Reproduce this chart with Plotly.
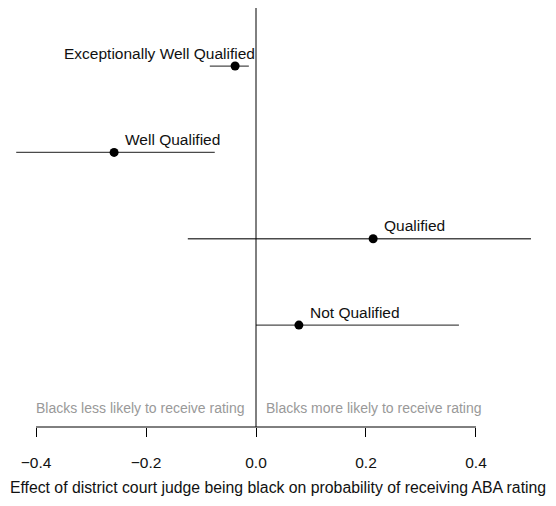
import plotly.graph_objects as go

# ABA rating categories, top to bottom
ratings = ["Exceptionally Well Qualified", "Well Qualified", "Qualified", "Not Qualified"]
row_pos = [4, 3, 2, 1]
estimates = [-0.038, -0.258, 0.213, 0.078]
ci_low = [-0.084, -0.436, -0.124, 0.0]
ci_high = [-0.013, -0.075, 0.500, 0.369]
tick_vals = [-0.4, -0.2, 0.0, 0.2, 0.4]
tick_text = ["\u22120.4", "\u22120.2", "0.0", "0.2", "0.4"]

FONT = "Liberation Sans, Arial, Helvetica, sans-serif"
TXT = 15.5

fig = go.Figure()
fig.add_trace(go.Scatter(
    x=estimates, y=row_pos, mode="markers",
    marker=dict(color="black", size=9),
    error_x=dict(type="data", symmetric=False,
                 array=[h - e for h, e in zip(ci_high, estimates)],
                 arrayminus=[e - l for e, l in zip(estimates, ci_low)],
                 color="#4a4a4a", thickness=1.3, width=0),
    hoverinfo="skip", showlegend=False,
))

# category labels next to each point
for name, x, y in zip(ratings, estimates, row_pos):
    if x == estimates[0]:
        fig.add_annotation(x=x, y=y, text=name, showarrow=False, xanchor="right",
                           xshift=22, yshift=13, font=dict(size=TXT, color="#111", family=FONT))
    else:
        fig.add_annotation(x=x, y=y, text=name, showarrow=False, xanchor="left",
                           xshift=9, yshift=13, font=dict(size=TXT, color="#111", family=FONT))

# zero reference line and bottom axis line
fig.add_shape(type="line", x0=0, x1=0, xref="x", y0=0, y1=1, yref="paper",
              line=dict(color="black", width=1))
fig.add_shape(type="line", x0=tick_vals[0], x1=tick_vals[-1], xref="x", y0=0, y1=0, yref="paper",
              line=dict(color="black", width=1))

fig.add_annotation(x=0, y=0, xref="x", yref="paper", text="Blacks less likely to receive rating",
                   showarrow=False, xanchor="right", yanchor="bottom", xshift=-9, yshift=9,
                   font=dict(size=14, color="#999999", family=FONT))
fig.add_annotation(x=0, y=0, xref="x", yref="paper", text="Blacks more likely to receive rating",
                   showarrow=False, xanchor="left", yanchor="bottom", xshift=8, yshift=9,
                   font=dict(size=14, color="#999999", family=FONT))

fig.update_layout(
    width=556, height=506,
    margin=dict(l=0, r=0, t=8, b=79),
    plot_bgcolor="white", paper_bgcolor="white",
    xaxis=dict(range=[-0.4655, 0.5455], tickvals=tick_vals, ticktext=tick_text,
               ticks="outside", ticklen=9, tickwidth=1, tickcolor="black",
               ticklabelstandoff=12,
               showgrid=False, zeroline=False, showline=False,
               tickfont=dict(size=TXT, color="#111", family=FONT),
               title=dict(text="Effect of district court judge being black on probability of receiving ABA rating",
                          font=dict(size=15.8, color="#111", family=FONT), standoff=12)),
    yaxis=dict(range=[-0.18, 4.672], showticklabels=False, showgrid=False,
               zeroline=False, showline=False, ticks=""),
)

fig.write_html("out.html")
